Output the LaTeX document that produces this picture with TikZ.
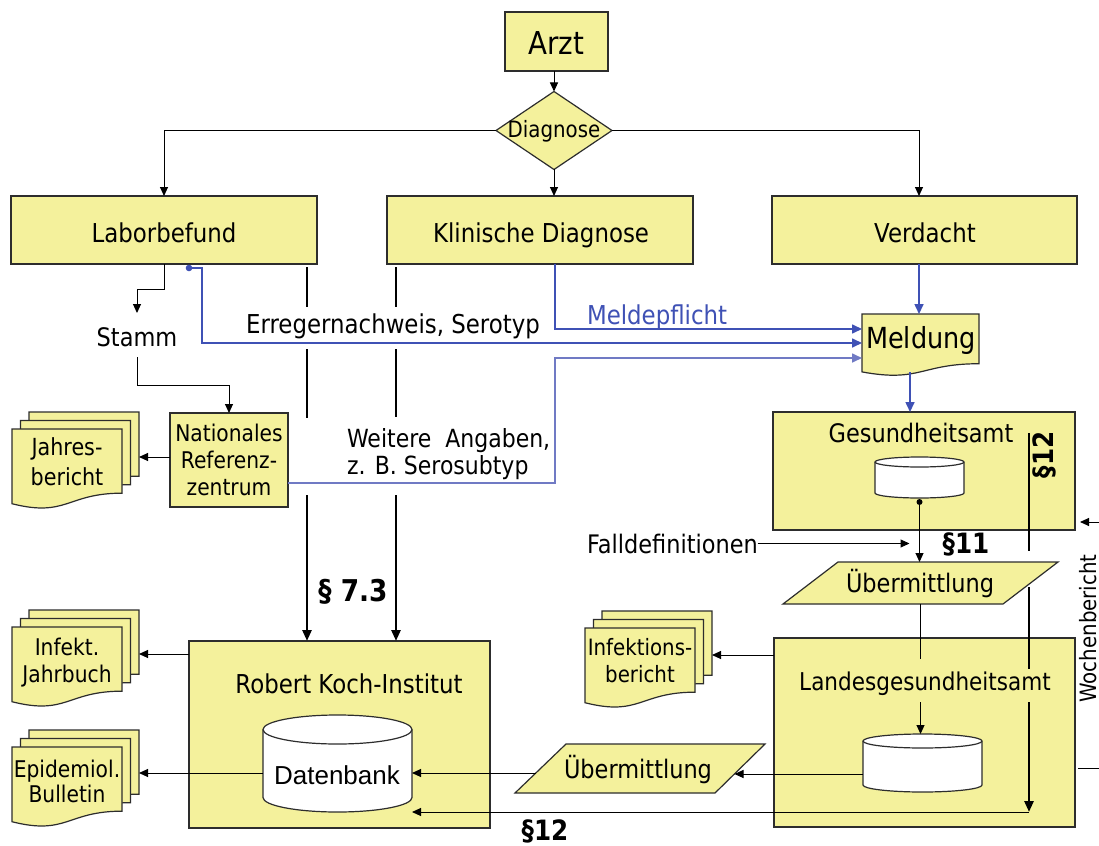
\documentclass[tikz,border=0pt]{standalone}
\usepackage{fontspec}
\setmainfont{DejaVu Sans}[FakeStretch=0.88]
\newfontfamily\dbfont{Liberation Sans}
\usetikzlibrary{arrows.meta}
\definecolor{ylw}{RGB}{244,241,156}
\definecolor{bluel}{RGB}{63,81,181}
\definecolor{bluelite}{RGB}{112,122,196}
\definecolor{edgec}{RGB}{45,45,45}
\newcommand\fs[1]{\fontsize{#1pt}{#1pt}\selectfont}
\tikzset{
  box/.style={draw=edgec, fill=ylw, line width=1.3pt, inner sep=0pt, outer sep=0pt},
  ghost/.style={inner sep=0pt, outer sep=0pt},
  txt/.style={inner sep=0pt, outer sep=0pt, anchor=base, font=\fs{26}},
  arr/.style={line width=1pt, -{Triangle[length=9pt,width=8pt]}},
  ln/.style={line width=1pt},
  thk/.style={line width=2.6pt},
  thkarr/.style={line width=2.6pt, -{Triangle[length=11pt,width=9pt]}},
  barr/.style={draw=bluel, line width=1.6pt, -{Triangle[length=10pt,width=9pt]}},
  docfill/.style={draw=edgec, fill=ylw, line width=1.2pt},
  cylfill/.style={draw=edgec, fill=white, line width=1.2pt},
}
\newcommand\docshape[4]{%
  \filldraw[docfill] (#1,#2) -- ({#1+#3},#2) -- ({#1+#3},{#2+0.802*#4})
    .. controls ({#1+0.5*#3},{#2+0.802*#4}) and ({#1+0.5*#3},{#2+1.1075*#4}) .. (#1,{#2+0.934*#4}) -- cycle;}
\newcommand\docstack[3]{%
  \docshape{#2+17}{#3-17}{110}{80}
  \docshape{#2+8.5}{#3-8.5}{110}{80}
  \docshape{#2}{#3}{110}{80}
  \node[ghost, minimum width=127pt, minimum height=97pt, anchor=north west] (#1) at (#2,#3-17) {};}
\newcommand\cyl[6]{%
  \filldraw[cylfill] ({#2-#4},{#3+#6}) -- ({#2-#4},{#3+#5-#6})
    arc[start angle=180,end angle=360,x radius=#4pt,y radius=#6pt] -- ({#2+#4},{#3+#6})
    arc[start angle=0,end angle=180,x radius=#4pt,y radius=#6pt] -- cycle;
  \draw[cylfill, fill=none] ({#2-#4},{#3+#6}) arc[start angle=180,end angle=360,x radius=#4pt,y radius=#6pt];
  \node[ghost, minimum width={2*#4}, minimum height=#5] (#1) at (#2,{#3+#5/2}) {};}

\begin{document}
\begin{tikzpicture}[x=1pt,y=-1pt]
\fill[white] (0,0) rectangle (1099,845);
\useasboundingbox (0,0) rectangle (1099,845);

% ---- top
\node[box, minimum width=103pt, minimum height=59pt] (arzt) at (556.5,41.5) {};
\node[txt, font=\fs{31.5}] (arztt) at (556,55) {Arzt};
\node[ghost, minimum width=116pt, minimum height=78pt] (diag) at (554,130.5) {};
\filldraw[docfill] (diag.north) -- (diag.east) -- (diag.south) -- (diag.west) -- cycle;
\node[txt, font=\fs{22.5}] (diagt) at (554,137.5) {Diagnose};
\draw[arr] (arzt.south -| diag.north) -- (diag.north);

\node[box, minimum width=306pt, minimum height=68pt] (labor) at (164,230) {};
\node[txt] (labort) at (164,242) {Laborbefund};
\node[box, minimum width=306pt, minimum height=68pt] (klin) at (540,230) {};
\node[txt] (klint) at (541,242) {Klinische Diagnose};
\node[box, minimum width=305pt, minimum height=68pt] (verd) at (924.5,230) {};
\node[txt] (verdt) at (925,242) {Verdacht};
\draw[arr] (diag.west) -| (labor.north);
\draw[arr] (diag.south) -- (diag.south |- klin.north);
\draw[arr] (diag.east) -| ([xshift=-5.5pt]verd.north);

% ---- Stamm / NRZ
\node[ghost, minimum width=80pt, minimum height=44pt] (stamm) at (137,335) {};
\node[txt, font=\fs{25.5}] (stammt) at (137,346) {Stamm};
\draw[arr] (labor.south) -- ++(0,25) -| (stamm.north);
\node[box, minimum width=118pt, minimum height=94pt] (nrz) at (229,460) {};
\node[txt, font=\fs{23}] (nrz1) at (229,441) {Nationales};
\node[txt, font=\fs{23}] (nrz2) at (229,468) {Referenz-};
\node[txt, font=\fs{23}] (nrz3) at (229,495) {zentrum};
\draw[arr] (stamm.south) -- ++(0,28) -| (nrz.north);

\docstack{jahr}{12}{429}
\node[txt, font=\fs{23.5}] (jahr1) at (67,455) {Jahres-};
\node[txt, font=\fs{23.5}] (jahr2) at (67,485) {bericht};
\draw[arr] ([yshift=3pt]nrz.west) -- ([yshift=3pt]nrz.west -| jahr.east);

% ---- Meldung
\docshape{862}{314}{117}{62}
\node[ghost, minimum width=117pt, minimum height=58pt] (meld) at (920.5,343) {};
\node[txt, font=\fs{29}] (meldt) at (921,348) {Meldung};

% blue connectors
\coordinate (erstart) at ([xshift=25pt,yshift=-4pt]labor.south);
\draw[barr] (erstart) -- ++(13,0) |- (meld.west);
\fill[bluel] (erstart) circle (3.3pt);
\coordinate (klx) at ([xshift=15pt]klin.south);
\draw[barr] (klx) |- ([yshift=14pt]meld.west);
\draw[barr, draw=bluelite] ([yshift=-23pt]nrz.east) -| ([yshift=-15pt]meld.west -| klx) -- ([yshift=-15pt]meld.west);
\draw[barr] ([xshift=-5.5pt]verd.south) -- ([xshift=-5.5pt]verd.south |- meld.north);

\node[txt] (erregt) at (393,333) {Erregernachweis, Serotyp};
\node[txt, anchor=base west, text=bluel] (mpt) at (587,324) {Meldepflicht};
\node[txt, anchor=base west, font=\fs{25}] (wa1) at (347,447) {Weitere\ \ Angaben,};
\node[txt, anchor=base west, font=\fs{25}] (wa2) at (347,474) {z. B. Serosubtyp};

% ---- RKI
\node[box, minimum width=301pt, minimum height=187pt] (rki) at (339.5,734.5) {};
\node[txt] (rkit) at (349,693) {Robert Koch-Institut};
\cyl{rdb}{337.5}{715}{74.5}{97}{14.5}
\node[txt, font=\dbfont\fs{26}] (rdbt) at (337,784) {Datenbank};

% thick lines to RKI
\coordinate (tl) at (307,0);
\coordinate (tr) at (396,0);
\draw[thk] ([yshift=-3pt]labor.south -| tl) -- (307,307);
\draw[thk] (307,349) -- (307,418);
\draw[thkarr] (307,495) -- (rki.north -| tl);
\draw[thk] ([yshift=-3pt]klin.south -| tr) -- (396,307);
\draw[thk] (396,349) -- (396,417);
\draw[thkarr] (396,495) -- (rki.north -| tr);
\node[txt, font=\bfseries\fs{30}] (s73) at (353,601) {§ 7.3};

\docstack{jahrb}{12}{627}
\node[txt, font=\fs{23}] (jb1) at (67,655) {Infekt.};
\node[txt, font=\fs{23}] (jb2) at (67,682) {Jahrbuch};
\draw[arr] ([yshift=80.5pt]rki.west) -- ([yshift=80.5pt]rki.west -| jahrb.east);
\docstack{epi}{12}{747}
\node[txt, font=\fs{23}] (epi1) at (67,777) {Epidemiol.};
\node[txt, font=\fs{23}] (epi2) at (67,802) {Bulletin};
\draw[arr] ([yshift=-9.5pt]rdb.west) -- ([yshift=-9.5pt]rdb.west -| epi.east);

% ---- Gesundheitsamt
\node[box, minimum width=302pt, minimum height=118pt] (gesund) at (924,471) {};
\draw[barr] ([xshift=-10.5pt]meld.south) -- ([xshift=-10.5pt]meld.south |- gesund.north);
\node[txt, font=\fs{25.5}] (gesundt) at (921,442) {Gesundheitsamt};
\cyl{gdb}{919.5}{457}{44.5}{41}{5}

% Übermittlung 1
\filldraw[docfill] (838,562) -- (1058,562) -- (1003,604) -- (783,604) -- cycle;
\node[ghost, minimum width=220pt, minimum height=42pt] (ueb1) at (920.5,583) {};
\node[txt, font=\fs{25.5}] (ueb1t) at (920,592) {Übermittlung};
\coordinate (gdot) at ([yshift=-4pt]gdb.south);
\draw[arr] (gdot) -- (gdot |- ueb1.north);
\fill (gdot) circle (3pt);

\node[txt, anchor=base west, font=\fs{25.5}] (fallt) at (587,553) {Falldefinitionen};
\draw[arr] (fallt.east) -- ([xshift=-11pt]ueb1.north |- fallt.east);
\node[txt, font=\bfseries\fs{28}] (s11) at (966,553) {§11};

% ---- Landesgesundheitsamt
\node[box, minimum width=301pt, minimum height=189pt] (landes) at (924.5,732.5) {};
\node[txt, font=\fs{24.5}] (landest) at (925,690) {Landesgesundheitsamt};
\cyl{ldb}{922.5}{734}{59.5}{58}{7}
\draw[ln] (ueb1.south) -- ++(0,55);
\draw[arr] ([yshift=-98pt]ueb1.south) -- (ueb1.south |- ldb.north);

\docstack{infb}{585}{628}
\node[txt, font=\fs{22.5}] (ib1) at (640,655) {Infektions-};
\node[txt, font=\fs{22.5}] (ib2) at (640,682) {bericht};
\draw[arr] ([yshift=77.5pt]landes.west) -- ([yshift=77.5pt]landes.west -| infb.east);

% Übermittlung 2
\filldraw[docfill] (566,744) -- (765,744) -- (715,793) -- (515,793) -- cycle;
\node[ghost, minimum width=198.5pt, minimum height=49pt] (ueb2) at (635.25,768.5) {};
\node[txt, font=\fs{25.5}] (ueb2t) at (638,778) {Übermittlung};
\draw[arr] ([yshift=-11pt]ldb.west) -- ([yshift=-11pt]ldb.west -| ueb2.east);
\draw[arr] ([yshift=-4.5pt]ueb2.west) -- ([yshift=-4.5pt]ueb2.west -| rdb.east);

% ---- §12 line
\draw[thk] (1029,433) -- (1029,551);
\draw[thk] (1029,587) -- (1029,669);
\draw[thkarr] (1029,702) -- (1029,812);
\coordinate (s12end) at (1029,812);
\draw[arr] (s12end) -- (s12end -| rdb.east);
\node[txt, font=\bfseries\fs{28}, rotate=90, anchor=center] (s12v) at (1044,455) {§12};
\node[txt, font=\bfseries\fs{28}] (s12h) at (545,840) {§12};

% ---- Wochenbericht
\node[txt, font=\fs{22.5}, rotate=90] (woch) at (1096.5,628.5) {Wochenbericht};
\coordinate (wb1) at (1099,522);
\draw[arr] (wb1) -- ([xshift=5pt]wb1 -| gesund.east);
\coordinate (wb2) at (1099,768);
\draw[ln] (wb2) -- ([xshift=3pt]wb2 -| landes.east);
\end{tikzpicture}
\end{document}
